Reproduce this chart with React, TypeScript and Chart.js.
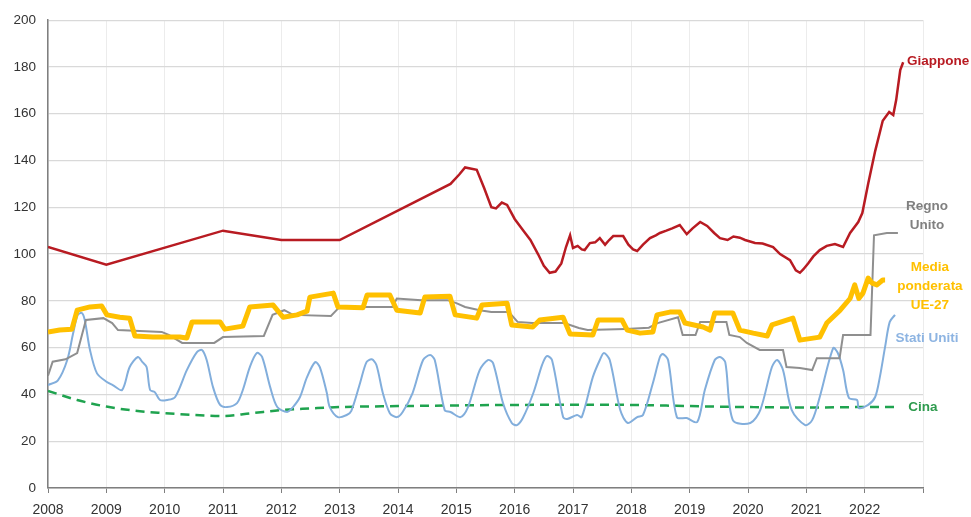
import React, { useEffect, useRef } from "react";
import { Chart, registerables } from "chart.js";

Chart.register(...registerables);

// ---------------- DATA ----------------
const yearTicks = [2008, 2009, 2010, 2011, 2012, 2013, 2014, 2015, 2016, 2017, 2018, 2019, 2020, 2021, 2022];

// Giappone
const japanX = [2008.0, 2009.0, 2011.0, 2012.0, 2013.0, 2014.9, 2015.05, 2015.15, 2015.35, 2015.48, 2015.6, 2015.68, 2015.78, 2015.87, 2016.0, 2016.15, 2016.27, 2016.4, 2016.5, 2016.6, 2016.7, 2016.8, 2016.88, 2016.95, 2017.0, 2017.08, 2017.15, 2017.2, 2017.29, 2017.38, 2017.46, 2017.55, 2017.62, 2017.69, 2017.86, 2017.95, 2018.03, 2018.1, 2018.2, 2018.32, 2018.42, 2018.49, 2018.6, 2018.7, 2018.83, 2018.95, 2019.05, 2019.18, 2019.3, 2019.42, 2019.52, 2019.65, 2019.75, 2019.86, 2019.95, 2020.12, 2020.25, 2020.43, 2020.55, 2020.72, 2020.82, 2020.89, 2020.95, 2021.03, 2021.12, 2021.23, 2021.35, 2021.49, 2021.63, 2021.75, 2021.89, 2021.96, 2022.06, 2022.18, 2022.31, 2022.42, 2022.49, 2022.54, 2022.61, 2022.66];
const japanY = [103, 95.5, 110, 106, 106, 130, 134, 137, 136, 128, 120, 119.5, 122, 121, 115, 110, 106, 100, 95, 92, 92.5, 96, 103, 108, 102.6, 103.5, 102, 101.7, 104.7, 105, 106.8, 104, 106, 107.7, 107.7, 104, 102, 101.3, 104, 106.8, 108, 109, 110, 111, 112.4, 108.5, 111, 113.7, 112, 109, 106.8, 106, 107.5, 107, 106, 104.7, 104.5, 103, 100, 97.4, 93, 92, 93.5, 96, 99, 101.7, 103.5, 104.3, 103, 109, 113.7, 117.5, 130, 144, 157, 160.7, 159.4, 165.8, 178.6, 182];

// Regno Unito
const ukX = [2008.0, 2008.08, 2008.3, 2008.5, 2008.65, 2008.95, 2009.1, 2009.2, 2009.95, 2010.07, 2010.3, 2010.85, 2011.0, 2011.7, 2011.85, 2012.05, 2012.2, 2012.85, 2013.0, 2013.9, 2013.98, 2014.4, 2014.85, 2015.0, 2015.15, 2015.4, 2015.6, 2015.9, 2016.05, 2016.3, 2016.85, 2017.1, 2017.25, 2017.9, 2018.3, 2018.45, 2018.8, 2018.88, 2019.1, 2019.18, 2019.63, 2019.68, 2019.86, 2019.98, 2020.2, 2020.6, 2020.66, 2020.89, 2021.1, 2021.18, 2021.57, 2021.63, 2022.1, 2022.16, 2022.38, 2022.57];
const ukY = [48, 54, 55, 57.7, 71.8, 72.6, 70.5, 67.5, 66.7, 65.4, 62, 62, 64.5, 65, 74, 76, 74, 73.5, 77.4, 77.4, 81, 80.3, 80.3, 79, 77.4, 76, 75.2, 75.2, 71, 70.5, 70.5, 68.4, 67.5, 68, 68.5, 70.5, 73, 65.4, 65.4, 71, 71, 65.4, 64.5, 62, 59, 59, 51.7, 51.3, 50.4, 55.5, 55.5, 65.4, 65.4, 108, 109, 109];

// Media ponderata UE-27
const euX = [2008.0, 2008.2, 2008.41, 2008.5, 2008.72, 2008.92, 2009.01, 2009.23, 2009.4, 2009.49, 2009.8, 2010.26, 2010.38, 2010.47, 2010.95, 2011.03, 2011.34, 2011.46, 2011.86, 2012.03, 2012.27, 2012.44, 2012.49, 2012.89, 2012.97, 2013.4, 2013.47, 2013.86, 2013.98, 2014.38, 2014.46, 2014.89, 2014.98, 2015.35, 2015.44, 2015.87, 2015.95, 2016.31, 2016.43, 2016.83, 2016.95, 2017.34, 2017.43, 2017.84, 2017.93, 2018.15, 2018.37, 2018.44, 2018.66, 2018.83, 2018.92, 2019.23, 2019.35, 2019.43, 2019.74, 2019.86, 2020.09, 2020.33, 2020.41, 2020.77, 2020.89, 2021.23, 2021.35, 2021.58, 2021.75, 2021.83, 2021.9, 2021.97, 2022.06, 2022.13, 2022.21, 2022.31, 2022.35];
const euY = [66.7, 67.5, 67.9, 76, 77.4, 77.8, 74, 73, 72.6, 65, 64.5, 64.5, 64.1, 71, 71, 67.9, 69.2, 77.4, 78.2, 73, 74, 75.6, 81.6, 83.3, 77.4, 77, 82.5, 82.5, 76, 74.8, 81.6, 82, 74, 72.6, 78.2, 79, 69.7, 68.8, 71.8, 73, 65.8, 65.4, 71.8, 71.8, 67.5, 66.2, 66.7, 74, 75.2, 75.2, 70.5, 68.8, 67.5, 74.8, 74.8, 67.5, 66.2, 65, 69.7, 72.6, 63.2, 64.5, 70.5, 76, 81, 86.8, 81, 83.3, 89.7, 87.6, 86.8, 88.9, 88.9];

// Stati Uniti
const usX = [2008.0, 2008.17, 2008.33, 2008.43, 2008.51, 2008.58, 2008.63, 2008.72, 2008.84, 2009.01, 2009.11, 2009.27, 2009.4, 2009.54, 2009.62, 2009.69, 2009.75, 2009.83, 2009.92, 2010.04, 2010.18, 2010.38, 2010.55, 2010.64, 2010.72, 2010.83, 2010.95, 2011.07, 2011.24, 2011.34, 2011.46, 2011.58, 2011.67, 2011.81, 2011.93, 2012.1, 2012.2, 2012.32, 2012.44, 2012.58, 2012.66, 2012.78, 2012.83, 2012.97, 2013.12, 2013.2, 2013.35, 2013.46, 2013.55, 2013.63, 2013.74, 2013.86, 2013.98, 2014.08, 2014.25, 2014.43, 2014.55, 2014.63, 2014.8, 2014.9, 2015.07, 2015.2, 2015.4, 2015.54, 2015.63, 2015.8, 2015.95, 2016.04, 2016.14, 2016.32, 2016.47, 2016.55, 2016.64, 2016.83, 2016.9, 2017.07, 2017.15, 2017.34, 2017.46, 2017.53, 2017.63, 2017.81, 2017.94, 2018.1, 2018.2, 2018.37, 2018.49, 2018.54, 2018.63, 2018.78, 2018.95, 2019.13, 2019.26, 2019.43, 2019.52, 2019.61, 2019.74, 2020.04, 2020.21, 2020.41, 2020.5, 2020.6, 2020.75, 2020.98, 2021.1, 2021.23, 2021.46, 2021.54, 2021.63, 2021.73, 2021.87, 2021.9, 2022.06, 2022.18, 2022.26, 2022.35, 2022.43, 2022.52];
const usY = [44, 46, 54.7, 66, 74, 74.8, 71.8, 59, 49, 45.3, 44, 41.9, 51.7, 56, 53.8, 51.7, 41.9, 41, 37.6, 37.6, 38.9, 50.4, 58, 59, 54.7, 43, 35.5, 34.6, 36.3, 41.9, 51.7, 57.7, 56, 43, 34.6, 32.5, 34.6, 38.9, 47.4, 53.8, 51.7, 40.6, 34.6, 30.3, 31.2, 33, 44.9, 53.8, 55, 52.6, 40.6, 32, 30.3, 32.5, 40.6, 54.7, 56.8, 54.7, 33.3, 32.5, 30.3, 34.6, 50.4, 54.7, 53.4, 36.3, 27.8, 26.9, 29.9, 40.6, 52.6, 56.4, 54.7, 30.3, 29.5, 31.2, 30.3, 47.4, 54.7, 57.7, 54.7, 33.3, 27.8, 30.3, 31.2, 44.9, 56, 57.3, 54.7, 30.3, 29.9, 28.2, 41.9, 54.7, 56, 53.8, 29, 27.8, 33.3, 51.7, 54.7, 50.4, 33.3, 26.9, 29, 38.9, 59.8, 57.7, 50.4, 38.5, 37.6, 34.2, 35.5, 38.9, 47.4, 60.3, 71, 74];

// Cina
const chinaX = [2008.0, 2008.5, 2009.0, 2009.5, 2010.0, 2010.5, 2011.0, 2011.5, 2012.0, 2012.5, 2013.0, 2014.0, 2015.0, 2016.0, 2017.0, 2018.0, 2019.0, 2020.0, 2021.0, 2022.0, 2022.55];
const chinaY = [41.5, 37.6, 34.8, 33, 32, 31.2, 30.8, 32, 33.3, 34, 34.6, 35, 35.3, 35.5, 35.6, 35.5, 35, 34.6, 34.4, 34.6, 34.6];

// Series end labels
const labelGiappone = ["Giappone"];
const labelRegnoUnito = ["Regno", "Unito"];
const labelUE = ["Media", "ponderata", "UE-27"];
const labelUSA = ["Stati Uniti"];
const labelCina = ["Cina"];

// ---------------- STYLE ----------------
const RED = "#B81B22";
const GREY = "#8F8F8F";
const GOLD = "#FFC000";
const BLUE = "#82AEDC";
const GREEN = "#1FA34F";
const FONT = "'Liberation Sans', Arial, sans-serif";

const toPts = (xs: number[], ys: number[]) => xs.map((x, i) => ({ x, y: ys[i] }));

// label placement (x in years, y in index units)
const labelSpecs = [
  { lines: labelGiappone, color: RED, x: 2023.26, y: 182.5 },
  { lines: labelRegnoUnito, color: "#808080", x: 2023.07, y: 120.5 },
  { lines: labelUE, color: GOLD, x: 2023.12, y: 94.5 },
  { lines: labelUSA, color: "#8DB4E2", x: 2023.07, y: 64 },
  { lines: labelCina, color: "#2E9B4E", x: 2023.0, y: 34.3 },
];

const endLabels = {
  id: "endLabels",
  afterDraw(chart: any) {
    const { ctx, scales } = chart;
    ctx.save();
    ctx.font = `bold 13.5px ${FONT}`;
    ctx.textAlign = "center";
    ctx.textBaseline = "middle";
    for (const s of labelSpecs) {
      const px = scales.x.getPixelForValue(s.x);
      const py = scales.y.getPixelForValue(s.y);
      ctx.fillStyle = s.color;
      s.lines.forEach((t: string, i: number) => ctx.fillText(t, px, py + i * 19));
    }
    ctx.restore();
  },
};

export default function App() {
  const ref = useRef<HTMLCanvasElement | null>(null);

  useEffect(() => {
    document.body.style.margin = "0";
    const canvas = ref.current;
    if (!canvas) return;
    const lineBase = { pointRadius: 0, pointHoverRadius: 0, fill: false, tension: 0 };
    const chart = new Chart(canvas, {
      type: "line",
      data: {
        datasets: [
          { ...lineBase, label: "Giappone", data: toPts(japanX, japanY), borderColor: RED, borderWidth: 2.5 },
          { ...lineBase, label: "Media ponderata UE-27", data: toPts(euX, euY), borderColor: GOLD, borderWidth: 5, borderJoinStyle: "round" },
          { ...lineBase, label: "Regno Unito", data: toPts(ukX, ukY), borderColor: GREY, borderWidth: 2 },
          { ...lineBase, label: "Stati Uniti", data: toPts(usX, usY), borderColor: BLUE, borderWidth: 2, tension: 0.3 },
          { ...lineBase, label: "Cina", data: toPts(chinaX, chinaY), borderColor: GREEN, borderWidth: 2.5, borderDash: [9, 6], cubicInterpolationMode: "monotone" },
        ],
      } as any,
      options: {
        animation: false,
        responsive: false,
        maintainAspectRatio: false,
        events: [],
        layout: { padding: { left: 0, top: 20, right: 48, bottom: 0 } },
        plugins: { legend: { display: false }, tooltip: { enabled: false }, title: { display: false } },
        scales: {
          x: {
            type: "linear",
            min: 2008,
            max: 2023,
            afterFit: (s: any) => { s.height = 29; },
            afterBuildTicks: (s: any) => { s.ticks = [...yearTicks, 2023].map((v) => ({ value: v })); },
            ticks: {
              autoSkip: false,
              maxRotation: 0,
              padding: 9,
              color: "#333",
              font: { family: FONT, size: 14 },
              callback: (v: any) => (yearTicks.includes(v) ? String(v) : ""),
            },
            grid: { color: "#ECECEC", lineWidth: 1, tickLength: 5, tickColor: "#7F7F7F", drawTicks: true },
            border: { display: true, color: "#7F7F7F", width: 1.5 },
          },
          y: {
            min: 0,
            max: 200,
            afterFit: (s: any) => { s.width = 48; },
            ticks: { stepSize: 20, padding: 12, color: "#333", font: { family: FONT, size: 13.5 } },
            grid: { color: "#D9D9D9", lineWidth: 1.2, drawTicks: false },
            border: { display: true, color: "#7F7F7F", width: 1.5 },
          },
        },
      } as any,
      plugins: [endLabels],
    });
    return () => chart.destroy();
  }, []);

  return (
    <div style={{ width: 971, height: 517, background: "#fff" }}>
      <canvas ref={ref} width={971} height={517} style={{ display: "block" }} />
    </div>
  );
}
